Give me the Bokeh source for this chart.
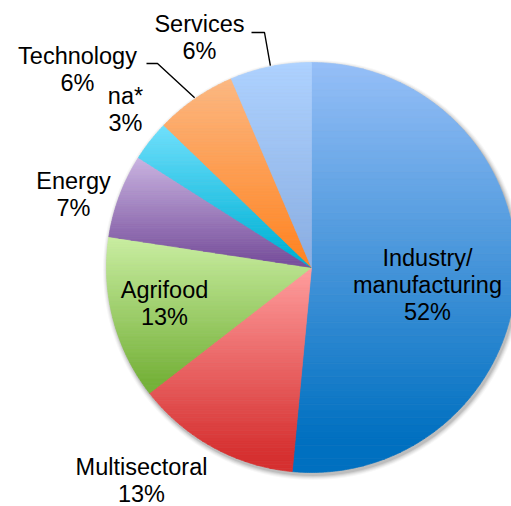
import numpy as np
from bokeh.plotting import figure
from bokeh.models import Range1d, ColumnDataSource
from bokeh.core.properties import value
from bokeh.embed import file_html
from bokeh.resources import INLINE

# ---------------- data ----------------
categories = ["Industry/\nmanufacturing", "Multisectoral", "Agrifood", "Energy",
              "na*", "Technology", "Services"]
shares = [51.5, 13.0, 12.9, 6.6, 3.2, 6.4, 6.4]
pct_labels = ["52%", "13%", "13%", "7%", "3%", "6%", "6%"]

# ---------------- style ----------------
top_colors = [(150, 191, 247), (255, 158, 158), (202, 238, 162), (202, 180, 226),
              (112, 224, 252), (252, 184, 130), (174, 210, 255)]
bottom_colors = [(0, 112, 192), (214, 48, 48), (118, 178, 58), (122, 82, 158),
                 (0, 178, 214), (255, 134, 38), (140, 176, 228)]

W, H = 511, 506
CX, CY, R = 311.0, 267.0, 205.0
FONT = value("Liberation Sans")
FSIZE = "23.5px"
LINE_GAP = 27.0
MID_SHIFT = 8.0   # baseline -> vertical middle of the text line

# label anchors: (center x, first baseline y) in picture pixels
label_anchor = [(427, 265), (141, 474), (164, 297), (73, 188), (125, 103), (77, 63), (199, 31)]
# leader lines: (slice index, start point, elbow point)
leaders = [(6, (251, 32), (264, 32)), (5, (146, 63), (157, 63))]

p = figure(width=W, height=H, x_range=Range1d(0, W), y_range=Range1d(H, 0),
           output_backend="svg", toolbar_location=None, min_border=0,
           x_axis_type=None, y_axis_type=None, outline_line_color=None,
           background_fill_color="white", border_fill_color="white")
p.grid.visible = False

# soft shadow
for dr, a in [(5, 0.03), (4, 0.04), (3, 0.05), (2, 0.07), (1, 0.09)]:
    p.circle(x=[CX + 1.5], y=[CY + 2.5], radius=R + dr, fill_color="black",
             fill_alpha=a, line_color=None)


def pt(theta, r=R):
    return (CX + r * np.sin(theta), CY - r * np.cos(theta))


def clip_half(pts, y0, ge):
    out = []
    n = len(pts)
    for i in range(n):
        P, Q = pts[i], pts[(i + 1) % n]
        pin = P[1] >= y0 if ge else P[1] <= y0
        qin = Q[1] >= y0 if ge else Q[1] <= y0
        if pin:
            out.append(P)
        if pin != qin:
            t = (y0 - P[1]) / (Q[1] - P[1])
            out.append((P[0] + t * (Q[0] - P[0]), y0))
    return out


total = float(sum(shares))
bounds = np.concatenate([[0.0], np.cumsum(shares) / total * 2 * np.pi])

xs, ys, cols = [], [], []
NB = 60
for i in range(len(shares)):
    a0, a1 = bounds[i], bounds[i + 1]
    n = max(4, int(np.degrees(a1 - a0) * 2))
    th = np.linspace(a0, a1, n)
    poly = [(CX, CY)] + [pt(t) for t in th]
    ymin = min(q[1] for q in poly)
    ymax = max(q[1] for q in poly)
    edges = np.linspace(ymin, ymax, NB + 1)
    c0 = np.array(top_colors[i], float)
    c1 = np.array(bottom_colors[i], float)
    for b in range(NB):
        part = clip_half(poly, edges[b], True)
        part = clip_half(part, edges[b + 1], False) if part else []
        if len(part) < 3:
            continue
        t = ((edges[b] + edges[b + 1]) / 2 - ymin) / (ymax - ymin)
        t = min(1.0, t / 0.92)
        c = c0 + (c1 - c0) * t
        cols.append("#%02x%02x%02x" % tuple(int(round(v)) for v in c))
        xs.append([q[0] for q in part])
        ys.append([q[1] for q in part])

src = ColumnDataSource(dict(xs=xs, ys=ys, color=cols))
p.patches("xs", "ys", source=src, fill_color="color", line_color="color", line_width=0.7)

# leader lines
for idx, s, e in leaders:
    mid = (bounds[idx] + bounds[idx + 1]) / 2
    end = pt(mid, R + 1)
    p.line([s[0], e[0], end[0]], [s[1], e[1], end[1]], line_color="black", line_width=1.4)

# labels
tx, ty, tt = [], [], []
for i, name in enumerate(categories):
    lines = name.split("\n") + [pct_labels[i]]
    x0, y0 = label_anchor[i]
    for k, ln in enumerate(lines):
        tx.append(x0)
        ty.append(y0 + k * LINE_GAP - MID_SHIFT)
        tt.append(ln)
p.text(x=tx, y=ty, text=tt, text_font=FONT, text_font_size=FSIZE,
       text_align="center", text_baseline="middle", text_color="black")

open("out.html", "w").write(file_html(p, INLINE))
